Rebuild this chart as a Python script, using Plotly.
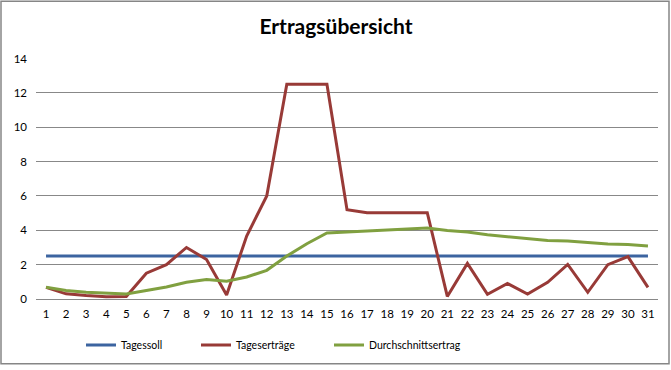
import plotly.graph_objects as go

days = [str(d) for d in range(1, 32)]
tagessoll = [2.5] * 31
tagesertraege = [0.68, 0.3, 0.2, 0.13, 0.15, 1.5, 2.0, 3.0, 2.3, 0.23,
                 3.67, 6.0, 12.5, 12.5, 12.5, 5.2, 5.02, 5.02, 5.02, 5.02,
                 0.15, 2.07, 0.27, 0.9, 0.29, 0.97, 2.01, 0.39, 2.0, 2.47, 0.68]
durchschnitt = [0.68, 0.49, 0.39, 0.33, 0.29, 0.49, 0.7, 0.98, 1.13, 1.04,
                1.28, 1.67, 2.5, 3.22, 3.84, 3.9, 3.96, 4.02, 4.08, 4.13,
                3.99, 3.9, 3.74, 3.63, 3.5, 3.4, 3.38, 3.27, 3.2, 3.17, 3.08]
yticks = [0, 2, 4, 6, 8, 10, 12, 14]

FONT = "Lato"
W, H = 671, 370
L, R, T, B = 36, 13, 58, 70
pw, ph = W - L - R, H - T - B

fig = go.Figure()
fig.add_trace(go.Scatter(x=days, y=tagessoll, mode="lines", name="Tagessoll",
                         line=dict(color="#3C64A0", width=3), legend="legend"))
fig.add_trace(go.Scatter(x=days, y=tagesertraege, mode="lines", name="Tageserträge",
                         line=dict(color="#983A37", width=3), legend="legend2"))
fig.add_trace(go.Scatter(x=days, y=durchschnitt, mode="lines", name="Durchschnittsertrag",
                         line=dict(color="#80A040", width=3), legend="legend3"))

# outer chart border
fig.add_shape(type="rect", xref="paper", yref="paper",
              x0=(1 - L) / pw, x1=(669 - L) / pw,
              y0=(H - B - 365) / ph, y1=(H - B - 1) / ph,
              line=dict(color="#868686", width=1.5), layer="below")


def leg(px):
    return dict(orientation="h", x=(px - L) / pw, xanchor="left",
                y=(H - B - 345) / ph, yanchor="middle",
                font=dict(family=FONT, size=10.5), itemwidth=30,
                bgcolor="rgba(0,0,0,0)")


fig.update_layout(
    width=W, height=H,
    margin=dict(l=L, r=R, t=T, b=B),
    paper_bgcolor="white", plot_bgcolor="white",
    font=dict(family=FONT, size=11, color="#000000"),
    title=dict(text="<b>Ertragsübersicht</b>", x=336 / W, xanchor="center",
               y=1 - 27 / H, yanchor="middle",
               font=dict(family=FONT, size=21, color="#000000")),
    showlegend=True,
    legend=leg(81), legend2=leg(196), legend3=leg(329),
    xaxis=dict(type="category", range=[-0.5, 30.5], showgrid=False,
               showline=False, ticks="", ticklabelstandoff=6,
               tickfont=dict(size=11.5)),
    yaxis=dict(range=[0, 14.03], tickvals=yticks, showgrid=True,
               gridcolor="#888888", gridwidth=1, zeroline=True,
               zerolinecolor="#888888", zerolinewidth=1, showline=False,
               ticks="", ticklabelstandoff=8, tickfont=dict(size=11.5)),
)

fig.write_html("out.html", config={"displayModeBar": False},
               post_script="document.body.style.margin='0';document.body.style.overflow='hidden';")
